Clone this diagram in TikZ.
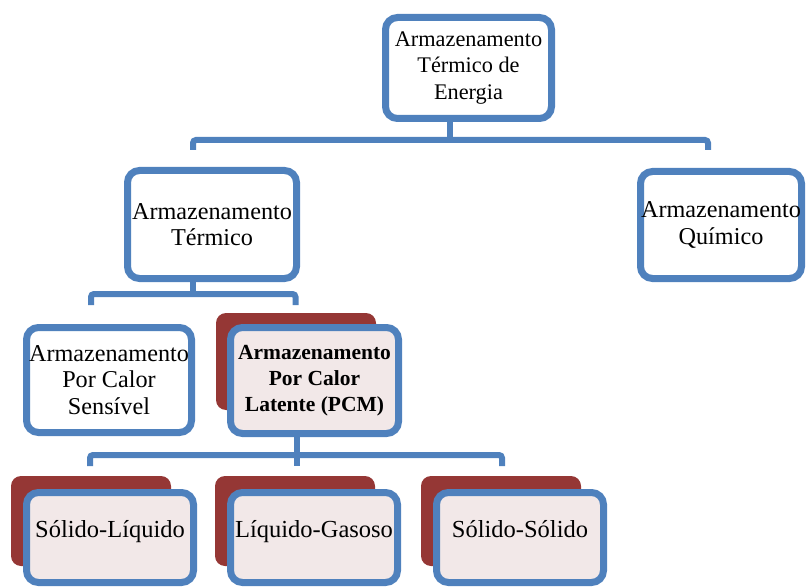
\documentclass[tikz,border=0pt]{standalone}
\usepackage{fontspec}
\setmainfont{Liberation Serif}
\usetikzlibrary{positioning,backgrounds}
\definecolor{boxblue}{HTML}{4F81BD}
\definecolor{backred}{HTML}{953735}
\definecolor{pcmpink}{HTML}{F2E8E8}
\tikzset{
  box/.style={draw=boxblue, line width=7pt, rounded corners=12pt, fill=white,
              inner sep=0pt, align=center, font=\fontsize{24.2}{26.5}\selectfont},
  pcmbox/.style={box, fill=pcmpink},
  leafbox/.style={pcmbox, minimum width=167pt, minimum height=90pt,
              text depth=18pt, font=\fontsize{24.5}{28}\selectfont},
  link/.style={draw=boxblue, line width=6pt, rounded corners=3pt},
  backbox/.style={fill=backred, rounded corners=10pt}
}

\begin{document}
\begin{tikzpicture}[x=1pt,y=-1pt]
  \useasboundingbox (0,0) rectangle (811,588);
  % level 0
  \node [box, minimum width=166pt, minimum height=101pt, font=\fontsize{22.3}{26.5}\selectfont] (top) at (468.5,68) {Armazenamento\\Térmico de\\Energia};
  % level 1
  \node [box, minimum width=169pt, minimum height=108pt] (term) at (212,224.5) {Armazenamento\\Térmico};
  \node [box, minimum width=161pt, minimum height=107pt] (quim) at (721,225) {Armazenamento\\Químico};
  % level 2
  \node [box, minimum width=165pt, minimum height=105pt] (sens) at (109,380) {Armazenamento\\Por Calor\\Sensível};
  \node [pcmbox, minimum width=168pt, minimum height=106pt, font=\fontsize{21.5}{26}\selectfont\bfseries] (pcm) at (314.5,380.5) {Armazenamento\\Por Calor\\Latente (PCM)};
  % level 3
  \node [leafbox] (sl) at (110,537.5) {Sólido-Líquido};
  \node [leafbox] (lg) at (314,537.5) {Líquido-Gasoso};
  \node [leafbox] (ss) at (520,537.5) {Sólido-Sólido};

  % red boxes behind
  \begin{scope}[on background layer]
    \fill [backbox] ([shift={(-11,-11)}]pcm.north west) rectangle ++(160,97);
    \foreach \n in {sl,lg,ss}
      \fill [backbox] ([shift={(-12,-13)}]\n.north west) rectangle ++(160,90);
  \end{scope}

  % connectors
  \draw [link] ([xshift=-18.5pt]top.south) -- ++(0,18) coordinate (bar1);
  \draw [link] ([xshift=-19pt]term.north) ++(0,-17) |- (bar1) -| ([shift={(-13,-18)}]quim.north);
  \draw [link] ([xshift=-19pt]term.south) -- ++(0,12) coordinate (bar2);
  \draw [link] ([xshift=-18pt]sens.north) ++(0,-19) |- (bar2) -| ([shift={(-19,-19)}]pcm.north);
  \draw [link] ([xshift=-17.5pt]pcm.south) -- ++(0,18) coordinate (bar3);
  \draw [link] ([xshift=-20pt]sl.north) ++(0,-23) |- (bar3) -| ([shift={(-18,-23)}]ss.north);
  \draw [link] (bar3) -- ([shift={(-17,-23)}]lg.north);
\end{tikzpicture}
\end{document}
